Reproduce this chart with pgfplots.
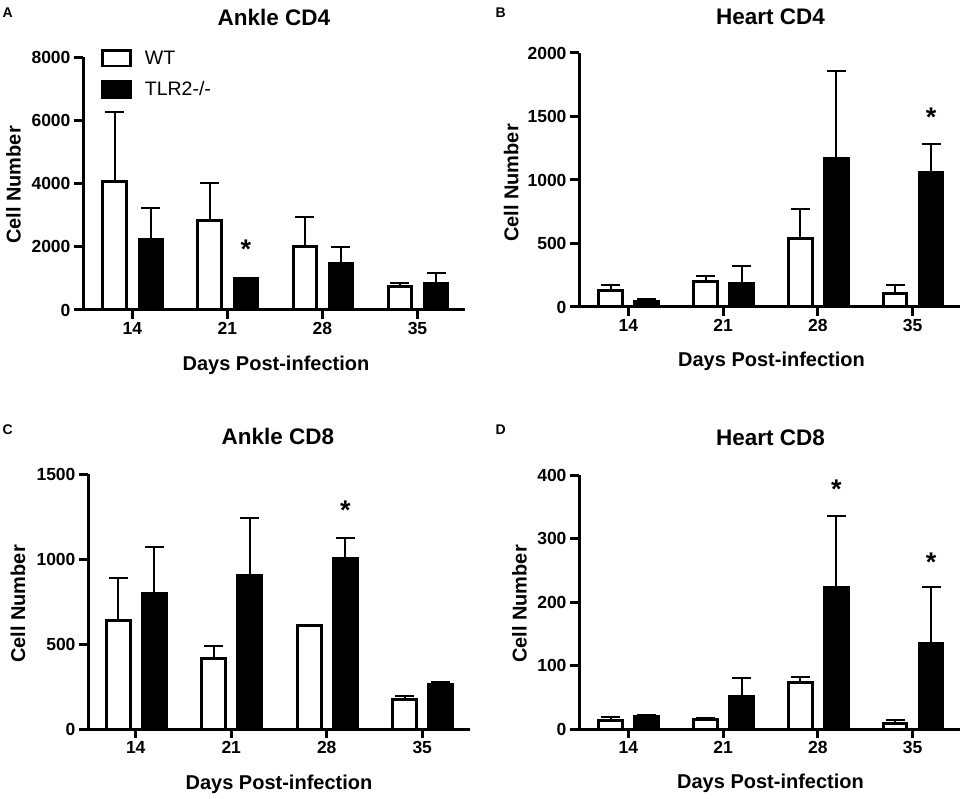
\documentclass[border=0pt]{standalone}
\usepackage{fontspec}
\setmainfont{Liberation Sans}
\usepackage{pgfplots}
\pgfplotsset{compat=1.18}
\tikzset{sigstar/.style={anchor=north, inner sep=0pt, font=\fontsize{27}{27}\selectfont\bfseries}}
\pgfplotsset{
  panel/.style={
    scale only axis,
    axis lines*=left,
    axis line style={line width=3pt,-},
    xmin=-0.52, xmax=3.5, ymin=0,
    xtick={0,1,2,3}, xticklabels={14,21,28,35},
    tick align=outside, major tick length=9pt,
    every tick/.style={black, line width=3pt},
    tick label style={font=\fontsize{17.5}{17.5}\selectfont\bfseries},
    /pgf/number format/assume math mode=true,
    /pgf/number format/1000 sep={},
    ybar, bar width=0.25, bar shift=0pt,
    clip=false,
  },
  wt/.style={draw=black, fill=white, line width=3pt,
    error bars/.cd, y dir=plus, y explicit,
    error bar style={line width=2pt, black},
    error mark options={rotate=90, line width=2pt, black, mark size=9.5pt}},
  ko/.style={draw=black, fill=black, line width=3pt,
    error bars/.cd, y dir=plus, y explicit,
    error bar style={line width=2pt, black},
    error mark options={rotate=90, line width=2pt, black, mark size=9.5pt}},
}
\begin{document}
\begin{tikzpicture}[x=1pt,y=1pt]
\useasboundingbox (0,0) rectangle (965,798);

% ---------- A: Ankle CD4 ----------
\begin{axis}[panel, at={(83pt,488pt)}, anchor=south west, width=382pt, height=253pt,
  ymax=8000, ytick={0,2000,4000,6000,8000},
  legend style={at={(axis description cs:0.047,1.033)}, anchor=north west, draw=none, fill=none,
    inner sep=0pt, row sep=12pt, font=\fontsize{19.5}{19.5}\selectfont,
    nodes={inner sep=2pt}, cells={anchor=west}},
  legend cell align=left]
\addlegendimage{legend image code/.code={\draw[line width=2.7pt, fill=white] (0pt,-7.8pt) rectangle (28pt,7.8pt);}}
\addlegendentry{\hspace{11pt}WT}
\addlegendimage{legend image code/.code={\draw[line width=2.7pt, fill=black] (0pt,-7.8pt) rectangle (28pt,7.8pt);}}
\addlegendentry{\hspace{11pt}TLR2-/-}
\addplot[forget plot, wt] coordinates {(-0.185,4070) +- (0,2190) (0.815,2830) +- (0,1190) (1.815,2020) +- (0,910) (2.815,740) +- (0,120)};
\addplot[forget plot, ko] coordinates {(0.195,2240) +- (0,990) (1.195,1000) +- (0,0) (2.195,1470) +- (0,530) (3.195,840) +- (0,340)};
\node[sigstar] at (axis cs:1.195,2215) {*};
\end{axis}

% ---------- B: Heart CD4 ----------
\begin{axis}[panel, at={(579pt,491pt)}, anchor=south west, width=381pt, height=254pt,
  ymax=2000, ytick={0,500,1000,1500,2000}]
\addplot[wt] coordinates {(-0.185,131) +- (0,45) (0.815,202) +- (0,39) (1.815,543) +- (0,229) (2.815,110) +- (0,66)};
\addplot[ko] coordinates {(0.195,45) +- (0,18) (1.195,184) +- (0,141) (2.195,1168) +- (0,688) (3.195,1060) +- (0,223)};
\node[sigstar] at (axis cs:3.195,1567) {*};
\end{axis}

% ---------- C: Ankle CD8 ----------
\begin{axis}[panel, at={(88pt,69pt)}, anchor=south west, width=382pt, height=255pt,
  xmin=-0.5, ymax=1500, ytick={0,500,1000,1500}]
\addplot[wt] coordinates {(-0.185,639) +- (0,247) (0.815,412) +- (0,74) (1.815,608) +- (0,0) (2.815,176) +- (0,20)};
\addplot[ko] coordinates {(0.195,798) +- (0,273) (1.195,904) +- (0,335) (2.195,1004) +- (0,120) (3.195,259) +- (0,19)};
\node[sigstar] at (axis cs:2.195,1341) {*};
\end{axis}

% ---------- D: Heart CD8 ----------
\begin{axis}[panel, at={(579pt,69pt)}, anchor=south west, width=381pt, height=254pt,
  ymax=400, ytick={0,100,200,300,400}]
\addplot[wt] coordinates {(-0.185,13) +- (0,6) (0.815,14.7) +- (0,3.3) (1.815,73) +- (0,9) (2.815,9.4) +- (0,5.3)};
\addplot[ko] coordinates {(0.195,20) +- (0,2.5) (1.195,51) +- (0,29) (2.195,223) +- (0,113) (3.195,135) +- (0,89)};
\node[sigstar] at (axis cs:2.195,393) {*};
\node[sigstar] at (axis cs:3.195,278) {*};
\end{axis}

% ---------- texts ----------
\begin{scope}[every node/.style={font=\fontsize{22.5}{22.5}\selectfont\bfseries, anchor=base, inner sep=0pt}]
\node at (274,772) {Ankle CD4};
\node at (770.5,773) {Heart CD4};
\node at (278,353) {Ankle CD8};
\node at (770.5,352) {Heart CD8};
\end{scope}
\begin{scope}[every node/.style={font=\fontsize{20}{20}\selectfont\bfseries, anchor=base, inner sep=0pt}]
\node at (276,427.3) {Days Post-infection};
\node at (771.5,431) {Days Post-infection};
\node at (279,8.5) {Days Post-infection};
\node at (770.5,9.5) {Days Post-infection};
\node[rotate=90] at (20.7,613) {Cell Number};
\node[rotate=90] at (518.3,615) {Cell Number};
\node[rotate=90] at (25,194) {Cell Number};
\node[rotate=90] at (526.7,194) {Cell Number};
\end{scope}
\begin{scope}[every node/.style={font=\fontsize{14}{14}\selectfont\bfseries, anchor=base west, inner sep=0pt}]
\node at (2.5,780) {A};
\node at (495.5,780) {B};
\node at (2.5,363) {C};
\node at (495.5,363) {D};
\end{scope}
\end{tikzpicture}
\end{document}
